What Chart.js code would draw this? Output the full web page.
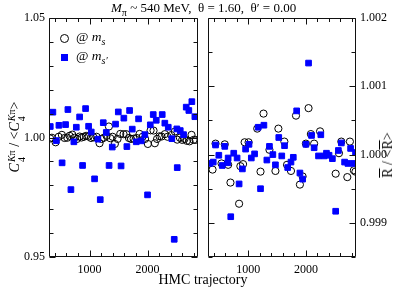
<!DOCTYPE html>
<html>
<head>
<meta charset="utf-8">
<script src="https://cdn.jsdelivr.net/npm/chart.js@4.4.1/dist/chart.umd.min.js"></script>
<style>
  html, body { margin: 0; padding: 0; background: #fff; }
  #wrap { position: relative; width: 407px; height: 291px; overflow: hidden; font-family: "Liberation Serif", "DejaVu Serif", serif; color: #000; }
  canvas { position: absolute; top: 0; }
  .txt { position: absolute; white-space: nowrap; }
  .rot { transform: translate(-50%, -50%) rotate(-90deg); }
  .ss { display: inline-flex; flex-direction: column; vertical-align: 0.4em; font-size: 10px; line-height: 10px; margin-left: 1px; }
  .ov { text-decoration: overline; }
  .mk-c { position: absolute; width: 7px; height: 7px; border: 1px solid #000; border-radius: 50%; }
  .mk-s { position: absolute; width: 7px; height: 7px; background: #0000ff; }
</style>
</head>
<body>
<div id="wrap">
  <canvas id="left" width="203" height="291" style="left:0"></canvas>
  <canvas id="right" width="204" height="291" style="left:203px"></canvas>

  <div class="txt" style="left:111px; top:0px; font-size:13px;"><i>M</i><sub style="font-size:10px">π</sub> ~ 540 MeV,&nbsp; θ = 1.60,&nbsp; θ′ = 0.00</div>
  <div class="txt rot" style="left:17px; top:137px; font-size:14px;"><i>C</i><span class="ss"><span><i>K</i>π</span><span>4</span></span> / &lt;<i>C</i><span class="ss"><span><i>K</i>π</span><span>4</span></span>&gt;</div>
  <div class="txt rot" style="left:388px; top:155px; font-size:14px;"><span class="ov">R</span> / &lt;<span class="ov">R</span>&gt;</div>
  <div class="txt" style="left:203px; top:280px; transform: translate(-50%, -50%); font-size:14px;">HMC trajectory</div>

  <div class="mk-c" style="left:60px; top:34px;"></div>
  <div class="txt" style="left:76px; top:29px; font-size:13.5px;">@ <i>m</i><sub style="font-size:10px"><i>s</i></sub></div>
  <div class="mk-s" style="left:61px; top:54px;"></div>
  <div class="txt" style="left:76px; top:48px; font-size:13.5px;">@ <i>m</i><sub style="font-size:10px"><i>s′</i></sub></div>
</div>

<script>
'use strict';

// ─── Data ─────────────────────────────────────────────────────────
// left panel: C4^Kpi / <C4^Kpi>
const LEFT_T_MS = [319, 350, 414, 466, 522, 569, 616, 655, 702, 741, 784, 828, 862, 902, 940, 983,
  1026, 1069, 1121, 1172, 1207, 1247, 1293, 1333, 1357, 1397, 1436, 1483, 1529, 1586, 1633, 1678,
  1715, 1759, 1810, 1862, 1914, 1957, 2005, 2052, 2103, 2126, 2164, 2207, 2241, 2298, 2345, 2409,
  2471, 2512, 2557, 2598, 2638, 2677, 2724, 2758, 2793, 2827];
const LEFT_C4_MS = [0.9996, 0.9999, 0.9980, 1.0003, 1.0011, 0.9998, 0.9999, 1.0007, 1.0012, 0.9999, 0.9994, 1.0004, 1.0000, 1.0003, 1.0007, 1.0004,
  0.9998, 1.0001, 1.0003, 0.9976, 0.9994, 0.9999, 1.0007, 1.0046, 0.9997, 1.0003, 0.9973, 0.9994, 1.0015, 1.0014, 1.0014, 0.9998,
  0.9994, 0.9995, 0.9998, 1.0015, 1.0003, 0.9994, 0.9973, 1.0030, 1.0029, 0.9976, 0.9994, 1.0005, 1.0004, 1.0014, 1.0003, 1.0010,
  1.0025, 0.9991, 0.9999, 0.9990, 0.9994, 0.9986, 0.9984, 1.0011, 0.9990, 0.9990];

const LEFT_T_MSP = [322, 367, 426, 471, 526, 586, 626, 678, 729, 771, 828, 879, 931, 983, 1029, 1086,
  1143, 1184, 1236, 1288, 1336, 1391, 1448, 1495, 1543, 1591, 1643, 1690, 1736, 1805, 1845, 1891,
  1953, 2000, 2047, 2098, 2150, 2253, 2298, 2357, 2419, 2460, 2505, 2512, 2564, 2621, 2667, 2712,
  2764, 2816];
const LEFT_C4_MSP = [1.0046, 1.0106, 0.9987, 1.0051, 0.9894, 1.0054, 1.0117, 0.9782, 0.9982, 1.0043, 1.0086, 0.9883, 1.0121, 1.0047, 1.0023, 0.9827,
  0.9993, 0.9740, 1.0062, 1.0021, 0.9883, 0.9960, 1.0056, 1.0107, 0.9881, 1.0081, 0.9962, 1.0113, 1.0035, 0.9982, 1.0078, 0.9986,
  1.0012, 0.9760, 1.0053, 1.0096, 1.0072, 1.0096, 1.0060, 1.0043, 0.9995, 0.9574, 1.0036, 0.9874, 1.0029, 1.0012, 1.0127, 1.0113,
  1.0150, 1.0087];

// right panel: Rbar / <Rbar>
const RIGHT_T_MS = [379, 431, 535, 591, 650, 690, 840, 862, 909, 936, 1005, 1155, 1212, 1264, 1367, 1471,
  1522, 1626, 1672, 1741, 1828, 1896, 1943, 2000, 2046, 2086, 2143, 2246, 2517, 2574, 2615, 2719,
  2764, 2833, 2860];
const RIGHT_R_MS = [0.99978, 1.00016, 0.99987, 1.00015, 0.99985, 0.99959, 0.99928, 0.99983, 0.99986, 1.00018, 1.00018, 1.00038, 0.99975, 1.00060, 1.00007, 0.99976,
  1.00038, 1.00019, 0.99985, 0.99976, 1.00057, 0.99956, 0.99968, 1.00016, 1.00068, 1.00030, 1.00016, 1.00034, 0.99972, 1.00002, 1.00019, 0.99967,
  1.00019, 0.99977, 0.99975];

const RIGHT_T_MSP = [333, 391, 431, 488, 547, 591, 643, 650, 695, 747, 805, 840, 897, 953, 1012, 1052,
  1109, 1172, 1212, 1271, 1322, 1367, 1426, 1471, 1529, 1581, 1629, 1684, 1741, 1781, 1840, 1896,
  1943, 2000, 2046, 2098, 2143, 2219, 2259, 2315, 2357, 2402, 2460, 2517, 2564, 2615, 2672, 2729,
  2776, 2827, 2862];
const RIGHT_R_MSP = [0.99987, 0.99989, 1.00014, 0.99999, 0.99984, 1.00012, 0.99988, 0.99995, 0.99909, 1.00002, 0.99995, 0.99957, 0.99979, 1.00008, 1.00015, 0.99995,
  1.00001, 1.00040, 0.99950, 1.00043, 0.99992, 1.00012, 1.00000, 0.99985, 1.00025, 0.99998, 1.00013, 0.99981, 0.99989, 0.99996, 1.00064, 0.99973,
  0.99964, 1.00015, 1.00134, 1.00028, 1.00010, 0.99998, 1.00029, 0.99998, 1.00002, 0.99999, 0.99994, 0.99917, 1.00006, 1.00017, 0.99989, 0.99987,
  1.00009, 0.99987, 1.00003];

const X_TICKS = [1000, 2000];
const LEFT_Y_TICKS = [0.95, 1.00, 1.05];
const RIGHT_Y_TICKS = [0.999, 1.000, 1.001, 1.002];

// ─── Helpers ──────────────────────────────────────────────────────
const BLUE = '#0000ff';
const FONT = { family: '"Liberation Serif", "DejaVu Serif", serif', size: 12 };

const pts = (xs, ys) => xs.map((x, i) => ({ x, y: ys[i] }));

// box round the plot area with inward ticks on all four sides
const framePlugin = {
  id: 'frame',
  afterDraw(chart, args, opts) {
    const { ctx, chartArea: a, scales: { x, y } } = chart;
    const L = Math.round(a.left) + 0.5, R = Math.round(a.right) - 0.5;
    const T = Math.round(a.top) + 0.5, B = Math.round(a.bottom) - 0.5;
    ctx.save();
    ctx.strokeStyle = '#111';
    ctx.lineWidth = 1;
    ctx.beginPath();
    ctx.rect(L, T, R - L, B - T);
    for (let v = opts.xFrom; v <= x.max + 1e-9; v += opts.xStep) {
      const px = Math.round(x.getPixelForValue(v)) + 0.5;
      const len = X_TICKS.includes(v) ? 6 : 3.5;
      ctx.moveTo(px, B); ctx.lineTo(px, B - len);
      ctx.moveTo(px, T); ctx.lineTo(px, T + len);
    }
    for (let i = 0; ; i++) {
      const v = +(y.min + i * opts.yStep).toFixed(6);
      if (v > y.max + 1e-9) break;
      const py = Math.round(y.getPixelForValue(v)) + 0.5;
      const len = opts.yMajor.some(m => Math.abs(m - v) < 1e-9) ? 6 : 4;
      ctx.moveTo(L, py); ctx.lineTo(L + len, py);
      ctx.moveTo(R, py); ctx.lineTo(R - len, py);
    }
    ctx.stroke();
    ctx.restore();
  }
};

function makeChart(id, circ, sq, yCfg, pad, frameOpts) {
  return new Chart(document.getElementById(id), {
    type: 'scatter',
    data: {
      datasets: [
        { data: sq, pointStyle: 'rect', pointRadius: 4, backgroundColor: BLUE, borderColor: BLUE, borderWidth: 1 },
        { data: circ, pointStyle: 'circle', pointRadius: 3.6, backgroundColor: 'rgba(0,0,0,0)', borderColor: '#000', borderWidth: 1 },
      ],
    },
    options: {
      responsive: false,
      animation: false,
      events: [],
      layout: { padding: pad },
      plugins: { legend: { display: false }, tooltip: { enabled: false }, frame: frameOpts },
      scales: {
        x: {
          type: 'linear', min: 300, max: 2870,
          grid: { display: false, drawTicks: false },
          border: { display: false },
          afterBuildTicks: s => { s.ticks = X_TICKS.map(v => ({ value: v })); },
          afterFit: s => { s.height = 34; },
          ticks: { color: '#000', font: FONT, padding: 6, maxRotation: 0, callback: v => String(v) },
        },
        y: Object.assign({
          type: 'linear',
          grid: { display: false, drawTicks: false },
          border: { display: false },
          ticks: { color: '#000', font: FONT, padding: 4 },
        }, yCfg),
      },
    },
    plugins: [framePlugin],
  });
}

// left: C4 ratio
makeChart('left', pts(LEFT_T_MS, LEFT_C4_MS), pts(LEFT_T_MSP, LEFT_C4_MSP), {
  position: 'left', min: 0.95, max: 1.05,
  afterBuildTicks: s => { s.ticks = LEFT_Y_TICKS.map(v => ({ value: v })); },
  afterFit: s => { s.width = 49; },
  ticks: { color: '#000', font: FONT, padding: 4, callback: v => v.toFixed(2) },
}, { top: 18, right: 5, left: 0, bottom: 0 }, { xFrom: 400, xStep: 200, yStep: 0.01, yMajor: LEFT_Y_TICKS });

// right: Rbar ratio
makeChart('right', pts(RIGHT_T_MS, RIGHT_R_MS), pts(RIGHT_T_MSP, RIGHT_R_MSP), {
  position: 'right', min: 0.9985, max: 1.002,
  afterBuildTicks: s => { s.ticks = RIGHT_Y_TICKS.map(v => ({ value: v })); },
  afterFit: s => { s.width = 51; },
  ticks: { color: '#000', font: FONT, padding: 4, callback: v => v.toFixed(3) },
}, { top: 18, right: 0, left: 3, bottom: 0 }, { xFrom: 400, xStep: 200, yStep: 0.0005, yMajor: RIGHT_Y_TICKS });
</script>
</body>
</html>
